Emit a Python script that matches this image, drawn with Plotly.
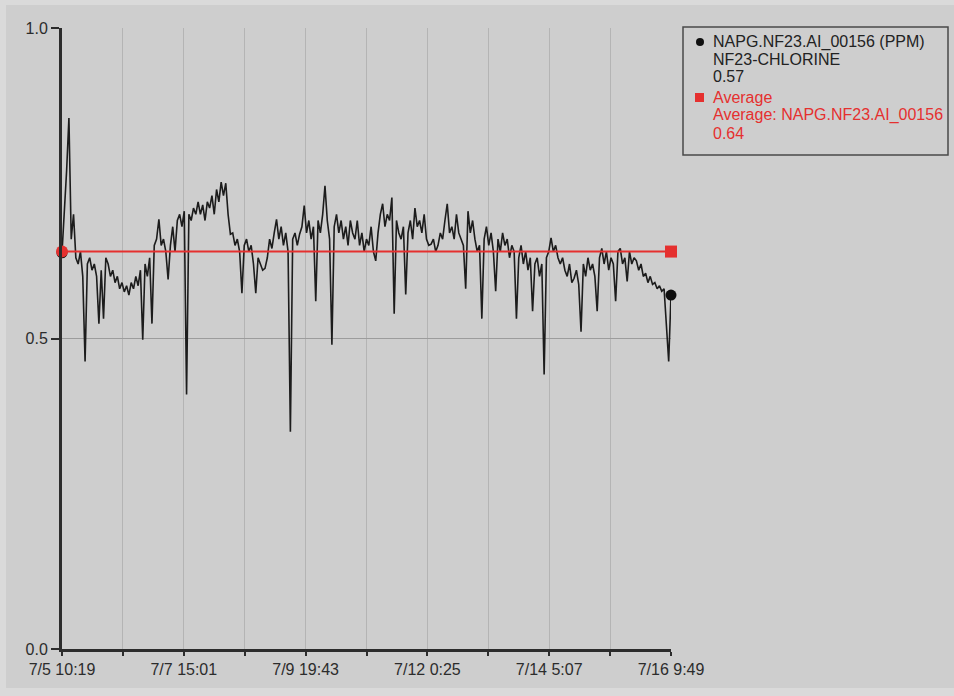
import pandas as pd
import plotly.graph_objects as go

# Trend window for tag NAPG.NF23.AI_00156 (free chlorine, PPM)
start = pd.Timestamp("2010-07-05 10:19")
end = pd.Timestamp("2010-07-16 09:49")

chlorine_ppm = [
    0.638, 0.70, 0.77, 0.855, 0.66, 0.70, 0.63, 0.62, 0.64, 0.60,
    0.463, 0.62, 0.63, 0.61, 0.62, 0.60, 0.524, 0.61, 0.532, 0.63,
    0.62, 0.60, 0.61, 0.59, 0.60, 0.58, 0.59, 0.575, 0.585, 0.57,
    0.59, 0.58, 0.60, 0.585, 0.61, 0.498, 0.62, 0.60, 0.63, 0.524,
    0.65, 0.66, 0.692, 0.65, 0.66, 0.64, 0.595, 0.65, 0.68, 0.64,
    0.69, 0.70, 0.68, 0.705, 0.41, 0.70, 0.69, 0.71, 0.70, 0.72,
    0.70, 0.715, 0.69, 0.72, 0.71, 0.73, 0.70, 0.74, 0.72, 0.752,
    0.73, 0.75, 0.70, 0.668, 0.67, 0.65, 0.66, 0.64, 0.573, 0.65,
    0.66, 0.64, 0.65, 0.62, 0.573, 0.63, 0.62, 0.61, 0.613, 0.63,
    0.66, 0.645, 0.67, 0.692, 0.66, 0.68, 0.65, 0.67, 0.64, 0.35,
    0.66, 0.67, 0.65, 0.668, 0.68, 0.714, 0.67, 0.69, 0.66, 0.68,
    0.56, 0.69, 0.67, 0.70, 0.746, 0.69, 0.66, 0.49, 0.68, 0.70,
    0.67, 0.69, 0.66, 0.68, 0.65, 0.69, 0.67, 0.66, 0.69, 0.65,
    0.67, 0.64, 0.66, 0.65, 0.68, 0.64, 0.625, 0.67, 0.70, 0.717,
    0.68, 0.70, 0.69, 0.727, 0.54, 0.69, 0.67, 0.66, 0.68, 0.571,
    0.67, 0.69, 0.66, 0.71, 0.68, 0.69, 0.67, 0.70, 0.66, 0.65,
    0.652, 0.66, 0.64, 0.65, 0.67, 0.66, 0.69, 0.717, 0.67, 0.68,
    0.66, 0.70, 0.67, 0.66, 0.65, 0.58, 0.705, 0.67, 0.69, 0.66,
    0.64, 0.65, 0.532, 0.66, 0.68, 0.65, 0.67, 0.64, 0.576, 0.66,
    0.64, 0.67, 0.65, 0.66, 0.63, 0.65, 0.64, 0.532, 0.63, 0.65,
    0.62, 0.64, 0.61, 0.63, 0.544, 0.62, 0.63, 0.60, 0.62, 0.442,
    0.63, 0.64, 0.662, 0.64, 0.65, 0.63, 0.62, 0.63, 0.61, 0.60,
    0.62, 0.59, 0.597, 0.61, 0.587, 0.511, 0.62, 0.60, 0.63, 0.61,
    0.62, 0.60, 0.544, 0.63, 0.645, 0.62, 0.64, 0.61, 0.63, 0.62,
    0.56, 0.64, 0.645, 0.62, 0.63, 0.592, 0.64, 0.62, 0.63, 0.625,
    0.61, 0.62, 0.60, 0.605, 0.59, 0.60, 0.587, 0.59, 0.58, 0.585,
    0.576, 0.58, 0.52, 0.463, 0.57,
]
average_ppm = 0.64

tick_labels = ["7/5 10:19", "", "7/7 15:01", "", "7/9 19:43", "",
               "7/12 0:25", "", "7/14 5:07", "", "7/16 9:49"]
y_ticks = [0.0, 0.5, 1.0]
y_tick_labels = ["0.0", "0.5", "1.0"]

legend_tag = ["NAPG.NF23.AI_00156 (PPM)", "NF23-CHLORINE", f"{chlorine_ppm[-1]:.2f}"]
legend_avg = ["Average", "Average: NAPG.NF23.AI_00156", f"{average_ppm:.2f}"]

times = pd.date_range(start, end, periods=len(chlorine_ppm))
tick_times = pd.date_range(start, end, periods=len(tick_labels))

W, H = 954, 696
L, R, T, B = 62, 283, 28, 47
PW, PH = W - L - R, H - T - B

BG = "#cecece"
INK = "#2c2c2c"
RED = "#e5302f"
FONT = "Liberation Sans, Arial, sans-serif"


def px(x):
    return (x - L) / PW


def py(y):
    return (H - B - y) / PH


fig = go.Figure()

fig.add_trace(go.Scatter(
    x=times, y=chlorine_ppm, mode="lines",
    line=dict(color="#1c1c1c", width=1.6), showlegend=False,
))

# current value markers at both ends of the trend
fig.add_trace(go.Scatter(
    x=[times[0], times[-1]], y=[chlorine_ppm[0], chlorine_ppm[-1]],
    mode="markers", marker=dict(color="#0e0e0e", size=11, line=dict(width=0)),
    cliponaxis=False, showlegend=False,
))

fig.add_trace(go.Scatter(
    x=[start, end], y=[average_ppm, average_ppm], mode="lines+markers",
    line=dict(color=RED, width=2),
    marker=dict(color=RED, size=12, symbol=["circle", "square"],
                opacity=1, line=dict(width=0)),
    cliponaxis=False, showlegend=False,
))

shapes = [
    # outer panel
    dict(type="rect", xref="paper", yref="paper",
         x0=px(6), x1=px(954), y0=py(5), y1=py(688),
         fillcolor=BG, line=dict(width=0), layer="below"),
    # legend box
    dict(type="rect", xref="paper", yref="paper",
         x0=px(683), x1=px(948), y0=py(27), y1=py(155),
         fillcolor=BG, line=dict(color="#4a4a4a", width=1.5)),
    dict(type="circle", xref="paper", yref="paper",
         x0=px(696), x1=px(704), y0=py(38), y1=py(46),
         fillcolor="#111111", line=dict(width=0)),
    dict(type="rect", xref="paper", yref="paper",
         x0=px(695), x1=px(704), y0=py(93), y1=py(102),
         fillcolor=RED, line=dict(width=0)),
]

annotations = []
for text, y in zip(legend_tag, [42, 59, 76]):
    annotations.append(dict(
        text=text, xref="paper", yref="paper", x=px(711), y=py(y),
        xanchor="left", yanchor="middle", showarrow=False,
        font=dict(family=FONT, size=16, color="#222222"),
    ))
for text, y in zip(legend_avg, [97, 115, 133]):
    annotations.append(dict(
        text=text, xref="paper", yref="paper", x=px(711), y=py(y),
        xanchor="left", yanchor="middle", showarrow=False,
        font=dict(family=FONT, size=16, color=RED),
    ))

fig.update_layout(
    width=W, height=H,
    margin=dict(l=L, r=R, t=T, b=B, pad=0),
    paper_bgcolor="#dadada", plot_bgcolor=BG,
    shapes=shapes, annotations=annotations,
    font=dict(family=FONT, size=16, color=INK),
    xaxis=dict(
        type="date", range=[start, end],
        tickmode="array", tickvals=tick_times, ticktext=tick_labels,
        showgrid=True, gridcolor="#b4b4b4", gridwidth=1,
        showline=True, linecolor=INK, linewidth=3,
        ticks="outside", ticklen=4, tickwidth=2, tickcolor=INK,
        tickfont=dict(size=16, color=INK), zeroline=False,
    ),
    yaxis=dict(
        range=[0, 1], tickmode="array", tickvals=y_ticks, ticktext=y_tick_labels,
        showgrid=True, gridcolor="#9c9c9c", gridwidth=1,
        showline=True, linecolor=INK, linewidth=3,
        ticks="outside", ticklen=8, tickwidth=1.5, tickcolor=INK,
        tickfont=dict(size=16, color=INK), zeroline=False,
    ),
)

fig.write_html("out.html")
